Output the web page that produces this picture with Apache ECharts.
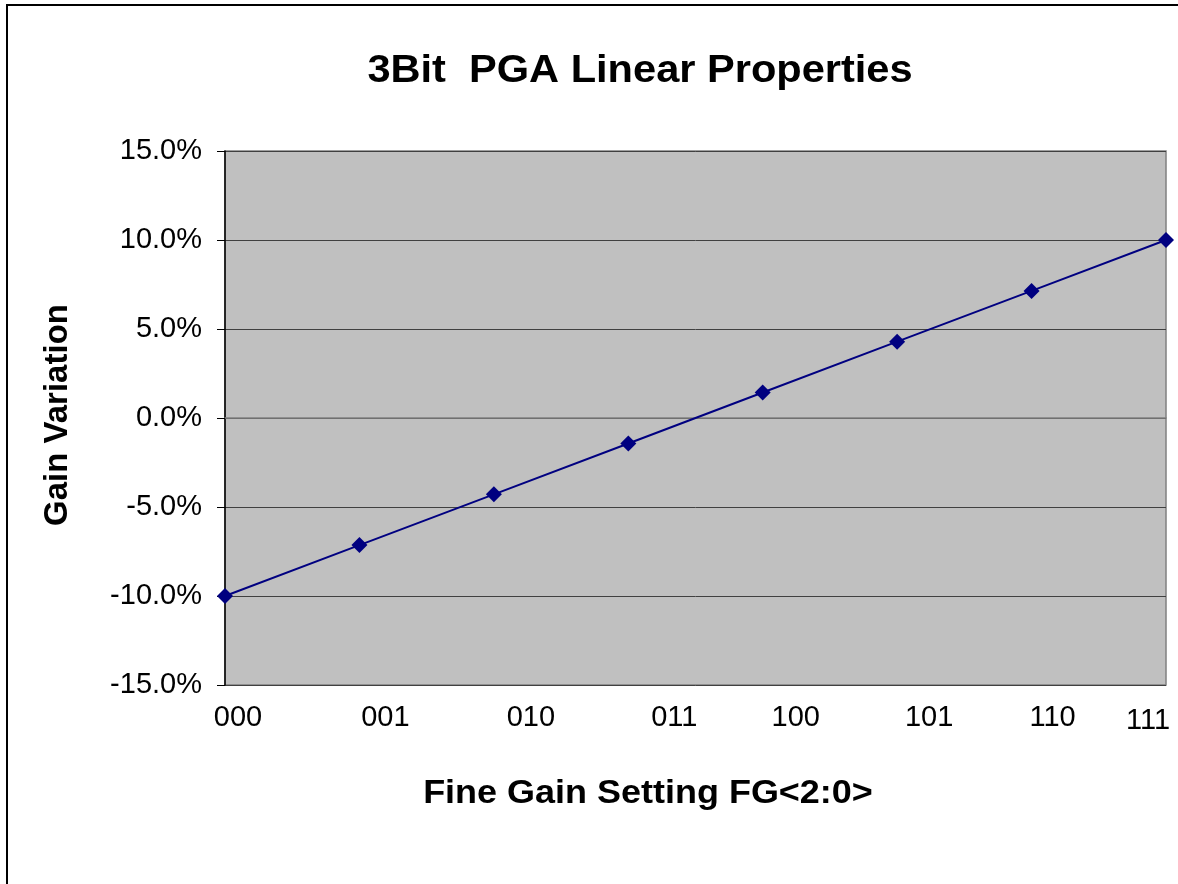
<!DOCTYPE html>
<html>
<head>
<meta charset="utf-8">
<script src="https://cdn.jsdelivr.net/npm/echarts@6/dist/echarts.min.js"></script>
<style>
html,body{margin:0;padding:0;background:#fff;}
#chart{width:1178px;height:884px;}
</style>
</head>
<body>
<div id="chart"></div>
<script>
var categories = ['000','001','010','011','100','101','110','111'];
var gainVariation = [-10.0, -7.14, -4.29, -1.43, 1.43, 4.29, 7.14, 10.0];
var yTicks = {min: -15, max: 15, interval: 5};
var titleText = '3Bit  PGA Linear Properties';
var xAxisName = 'Fine Gain Setting FG<2:0>';
var yAxisName = 'Gain Variation';

// styling: horizontal shift (px) of each category label relative to its tick, as in the original
var labelShift = [13, 26, 37, 46, 33, 32, 21, -18];
var rich = {};
labelShift.forEach(function (d, i) {
  rich['r' + i] = {
    fontFamily: 'Liberation Sans', fontSize: 29, color: '#000',
    padding: [i === labelShift.length - 1 ? 3 : 0, d < 0 ? -2 * d : 0, 0, d > 0 ? 2 * d : 0]
  };
});

var chart = echarts.init(document.getElementById('chart'));
chart.setOption({
  animation: false,
  backgroundColor: '#ffffff',
  graphic: [
    {type: 'rect', shape: {x: 7, y: 5, width: 1300, height: 1000},
     style: {fill: 'none', stroke: '#000', lineWidth: 2}, silent: true, z: -1},
    {type: 'text', x: 640, y: 71, scaleX: 1.066,
     style: {text: titleText, fontFamily: 'Liberation Sans', fontWeight: 'bold',
             fontSize: 39, fill: '#000', textAlign: 'center', textVerticalAlign: 'middle'}},
    {type: 'text', x: 648, y: 794, scaleX: 1.09,
     style: {text: xAxisName, fontFamily: 'Liberation Sans', fontWeight: 'bold',
             fontSize: 33, fill: '#000', textAlign: 'center', textVerticalAlign: 'middle'}},
    {type: 'text', x: 58, y: 415, rotation: Math.PI / 2,
     style: {text: yAxisName, fontFamily: 'Liberation Sans', fontWeight: 'bold',
             fontSize: 33, fill: '#000', textAlign: 'center', textVerticalAlign: 'middle'}}
  ],
  grid: {left: 225, top: 151, right: 12, bottom: 199, show: true,
         backgroundColor: '#c0c0c0', borderColor: '#808080', borderWidth: 1.5},
  xAxis: {
    type: 'category', data: categories, boundaryGap: false,
    axisLine: {show: true, lineStyle: {color: '#808080', width: 1.5}},
    axisTick: {show: false},
    splitLine: {show: false},
    axisLabel: {
      margin: 18, fontFamily: 'Liberation Sans', fontSize: 29, color: '#000',
      formatter: function (v, i) { return '{r' + i + '|' + v + '}'; },
      rich: rich
    }
  },
  yAxis: {
    type: 'value', min: yTicks.min, max: yTicks.max, interval: yTicks.interval,
    axisLine: {show: true, lineStyle: {color: '#000', width: 1.5}},
    axisTick: {show: true, length: 8, inside: false, lineStyle: {color: '#000'}},
    splitLine: {show: true, lineStyle: {color: '#404040', width: 1}},
    axisLabel: {
      margin: 23, fontFamily: 'Liberation Sans', fontSize: 29, color: '#000',
      formatter: function (v) { return v.toFixed(1) + '%'; }
    }
  },
  series: [{
    type: 'line', data: gainVariation,
    symbol: 'diamond', symbolSize: 16,
    lineStyle: {color: '#000080', width: 2},
    itemStyle: {color: '#000080'},
    clip: false
  }]
});
</script>
</body>
</html>
